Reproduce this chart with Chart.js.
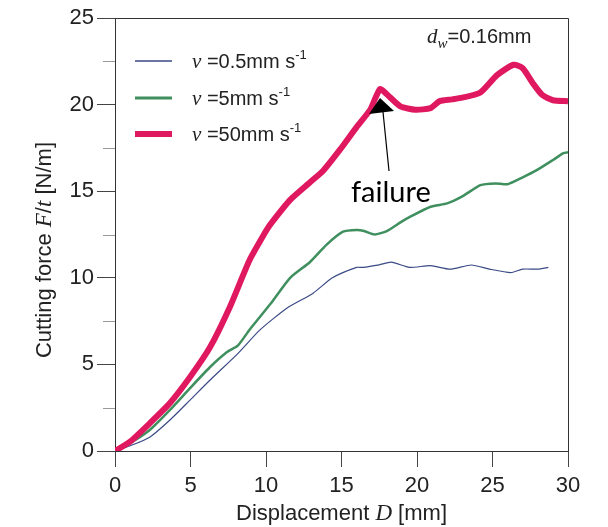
<!DOCTYPE html>
<html lang="en">
<head>
<meta charset="UTF-8" />
<title>Cutting force vs displacement</title>
<script src="https://cdn.jsdelivr.net/npm/chart.js"></script>
<style>
  body { margin: 0; background: #fff; }
  canvas { display: block; }
</style>
</head>
<body>
<canvas id="forceChart" width="608" height="527"></canvas>
<script>
  // displacement D [mm] and force F/t [N/m]
  const dispSlow = [0, 1, 2.3, 3.64, 4.97, 6.3, 8.15, 9.6, 11.4, 13.1, 14.4, 16.0, 16.4, 17.5, 18.3, 19.5, 20.9, 22.2, 23.6, 24.8, 26.2, 27.0, 28.0, 28.7];
  const forceSlow = [0, 0.3, 0.8, 1.79, 2.94, 4.1, 5.64, 6.99, 8.26, 9.1, 10.0, 10.6, 10.6, 10.75, 10.9, 10.6, 10.7, 10.5, 10.74, 10.5, 10.3, 10.5, 10.5, 10.6];

  const dispMid = [0, 1, 2.3, 3.64, 4.97, 6.3, 7.4, 8.15, 8.9, 10.3, 11.6, 12.9, 14.0, 15.1, 16.0, 16.5, 17.2, 18.0, 18.9, 19.5, 20.9, 22.0, 23.0, 24.2, 25.2, 26.0, 27.0, 27.9, 29.0, 29.7, 30];
  const forceMid = [0, 0.45, 1.21, 2.37, 3.63, 4.85, 5.7, 6.1, 6.99, 8.5, 10.0, 10.9, 11.9, 12.66, 12.76, 12.7, 12.5, 12.7, 13.2, 13.5, 14.1, 14.3, 14.7, 15.35, 15.45, 15.4, 15.8, 16.2, 16.8, 17.2, 17.25];

  const dispFast = [0, 1, 2.3, 3.64, 4.97, 6.3, 7.6, 8.9, 10.0, 10.3, 11.6, 12.9, 13.8, 14.9, 16.0, 16.9, 17.55, 18.0, 18.9, 19.9, 20.9, 21.5, 22.3, 23.0, 24.2, 25.3, 26.4, 27.0, 27.7, 28.3, 29.0, 30];
  const forceFast = [0, 0.54, 1.6, 2.77, 4.27, 6.0, 8.3, 11.0, 12.7, 13.1, 14.5, 15.5, 16.2, 17.4, 18.7, 19.7, 20.9, 20.6, 19.9, 19.7, 19.8, 20.2, 20.3, 20.4, 20.7, 21.7, 22.3, 22.1, 21.2, 20.55, 20.25, 20.2];

  const speedLabels = ['0.5', '5', '50'];
  const xTicks = [0, 5, 10, 15, 20, 25, 30];
  const yTicks = [0, 5, 10, 15, 20, 25];
  const yMinorTicks = [2.5, 7.5, 12.5, 17.5, 22.5];
  const failurePoint = { x: 17.55, y: 20.9 };

  const colors = ['#3a4a85', '#3f8f5f', '#e0185f'];
  const widths = [1.2, 2.5, 6];

  function pairs(xs, ys) {
    return xs.map((x, i) => ({ x: x, y: ys[i] }));
  }

  const SANS = '"Liberation Sans", Arial, sans-serif';
  const SERIF = '"Liberation Serif", "Times New Roman", serif';

  // draws a list of [text, font, dy] pieces one after another
  function drawRuns(ctx, x, y, runs) {
    runs.forEach(r => {
      ctx.font = r[1];
      ctx.fillText(r[0], x, y + (r[2] || 0));
      x += ctx.measureText(r[0]).width;
    });
    return x;
  }
  function runsWidth(ctx, runs) {
    let w = 0;
    runs.forEach(r => { ctx.font = r[1]; w += ctx.measureText(r[0]).width; });
    return w;
  }

  const decorPlugin = {
    id: 'decor',
    afterDraw(chart) {
      const ctx = chart.ctx;
      const a = chart.chartArea;
      const xs = chart.scales.x, ys = chart.scales.y;
      ctx.save();

      // frame top + right
      ctx.strokeStyle = '#333';
      ctx.lineWidth = 1;
      ctx.beginPath();
      ctx.moveTo(a.left, a.top + 0.5);
      ctx.lineTo(a.right + 0.5, a.top + 0.5);
      ctx.lineTo(a.right + 0.5, a.bottom);
      ctx.stroke();

      // minor y ticks
      ctx.strokeStyle = '#999';
      yMinorTicks.forEach(v => {
        const py = Math.round(ys.getPixelForValue(v)) + 0.5;
        ctx.beginPath();
        ctx.moveTo(a.left - 12, py);
        ctx.lineTo(a.left, py);
        ctx.stroke();
      });

      ctx.fillStyle = '#222';
      ctx.textBaseline = 'alphabetic';
      ctx.textAlign = 'left';

      // legend
      const legY = [61, 98, 134];
      chart.data.datasets.forEach((ds, i) => {
        ctx.strokeStyle = ds.borderColor;
        ctx.lineWidth = i === 2 ? 6 : (i === 1 ? 3 : 1.5);
        ctx.beginPath();
        ctx.moveTo(135, legY[i]);
        ctx.lineTo(172, legY[i]);
        ctx.stroke();
        ctx.fillStyle = '#222';
        drawRuns(ctx, 192, legY[i] + 7, [
          ['\u03bd', 'italic 21px ' + SERIF],
          [' =' + speedLabels[i] + 'mm s', '20px ' + SANS],
          ['-1', '13px ' + SANS, -9]
        ]);
      });

      // d_w label
      drawRuns(ctx, 427, 43, [
        ['d', 'italic 21px ' + SERIF],
        ['w', 'italic 15px ' + SERIF, 5],
        ['=0.16mm', '20px ' + SANS]
      ]);

      // failure arrow
      const tx = xs.getPixelForValue(failurePoint.x);
      const ty = ys.getPixelForValue(failurePoint.y) + 9;
      ctx.strokeStyle = '#000';
      ctx.lineWidth = 1.2;
      ctx.beginPath();
      ctx.moveTo(tx + 3, ty + 14);
      ctx.lineTo(tx + 9, ty + 73);
      ctx.stroke();
      ctx.fillStyle = '#000';
      ctx.beginPath();
      ctx.moveTo(tx, ty);
      ctx.lineTo(tx - 11, ty + 16);
      ctx.lineTo(tx + 14, ty + 13);
      ctx.closePath();
      ctx.fill();
      ctx.font = '29px Lato, "Open Sans", sans-serif';
      ctx.fillText('failure', 351, 202);

      // axis titles
      ctx.fillStyle = '#222';
      const xRuns = [
        ['Displacement ', '22px ' + SANS],
        ['D', 'italic 23px ' + SERIF],
        [' [mm]', '22px ' + SANS]
      ];
      const xw = runsWidth(ctx, xRuns);
      drawRuns(ctx, (a.left + a.right) / 2 - xw / 2, 520, xRuns);

      const yRuns = [
        ['Cutting force ', '22px ' + SANS],
        ['F', 'italic 23px ' + SERIF],
        ['/', '22px ' + SANS],
        ['t', 'italic 23px ' + SERIF],
        [' [N/m]', '22px ' + SANS]
      ];
      const yw = runsWidth(ctx, yRuns);
      ctx.translate(51, 250);
      ctx.rotate(-Math.PI / 2);
      drawRuns(ctx, -yw / 2, 0, yRuns);

      ctx.restore();
    }
  };

  const ctx = document.getElementById('forceChart').getContext('2d');
  new Chart(ctx, {
    type: 'line',
    data: {
      datasets: [
        { label: 'v=0.5', data: pairs(dispSlow, forceSlow) },
        { label: 'v=5', data: pairs(dispMid, forceMid) },
        { label: 'v=50', data: pairs(dispFast, forceFast) }
      ].map((d, i) => Object.assign(d, {
        borderColor: colors[i],
        backgroundColor: colors[i],
        borderWidth: widths[i],
        pointRadius: 0,
        tension: 0.2,
        fill: false,
        order: 3 - i
      }))
    },
    options: {
      responsive: false,
      animation: false,
      layout: { padding: { left: 0, top: 18, right: 40, bottom: 0 } },
      plugins: {
        legend: { display: false },
        tooltip: { enabled: false }
      },
      scales: {
        x: {
          type: 'linear',
          min: 0,
          max: 30,
          afterBuildTicks: s => { s.ticks = xTicks.map(v => ({ value: v })); },
          afterFit: s => { s.height = 76; },
          grid: { drawOnChartArea: false, tickLength: 16, color: '#444' },
          border: { color: '#333', width: 1 },
          ticks: { color: '#222', padding: 6, font: { family: SANS, size: 22 } }
        },
        y: {
          min: 0,
          max: 25,
          afterBuildTicks: s => { s.ticks = yTicks.map(v => ({ value: v })); },
          afterFit: s => { s.width = 115; },
          grid: { drawOnChartArea: false, tickLength: 18, color: '#444' },
          border: { color: '#333', width: 1 },
          ticks: { color: '#222', padding: 3, font: { family: SANS, size: 22 } }
        }
      }
    },
    plugins: [decorPlugin]
  });
</script>
</body>
</html>
